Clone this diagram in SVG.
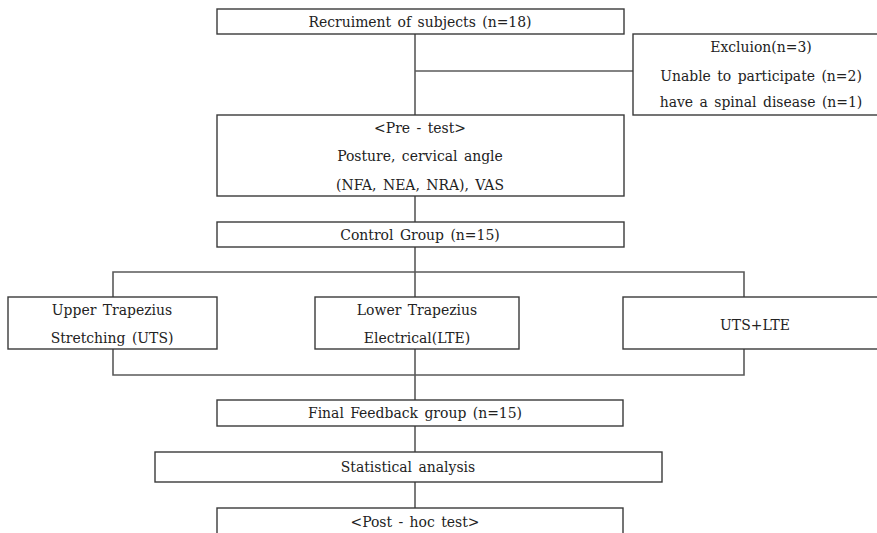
<svg xmlns="http://www.w3.org/2000/svg" width="877" height="533" viewBox="0 0 877 533">
<style>
  .box { fill: #ffffff; stroke: #3a3a3a; stroke-width: 1.4; }
  .conn { stroke: #5a5a5a; stroke-width: 1.6; fill: none; }
  .t { font-family: 'DejaVu Serif Condensed', 'DejaVu Serif', serif; font-stretch: condensed; font-size: 15.5px; fill: #222; text-anchor: middle; word-spacing: 2px; }
</style>
<rect x="0" y="0" width="877" height="533" fill="#ffffff"/>
<g id="connectors">
  <line class="conn" x1="415" y1="34" x2="415" y2="115"/>
  <line class="conn" x1="415" y1="71" x2="633" y2="71"/>
  <line class="conn" x1="415" y1="196" x2="415" y2="222"/>
  <line class="conn" x1="415" y1="247" x2="415" y2="297"/>
  <polyline class="conn" points="113,297 113,272 744,272 744,297"/>
  <polyline class="conn" points="113,349 113,375 744,375 744,349"/>
  <line class="conn" x1="415" y1="349" x2="415" y2="400"/>
  <line class="conn" x1="415" y1="426" x2="415" y2="452"/>
  <line class="conn" x1="415" y1="482" x2="415" y2="508"/>
</g>
<g id="recruitment">
  <rect class="box" x="217" y="9" width="407" height="25"/>
  <text class="t" x="420" y="27">Recruiment of subjects (n=18)</text>
</g>
<g id="exclusion">
  <rect class="box" x="633" y="34" width="260" height="81"/>
  <text class="t" x="761" y="52">Excluion(n=3)</text>
  <text class="t" x="761" y="81">Unable to participate (n=2)</text>
  <text class="t" x="761" y="107">have a spinal disease (n=1)</text>
</g>
<g id="pretest">
  <rect class="box" x="217" y="115" width="407" height="81"/>
  <text class="t" x="420" y="133">&lt;Pre - test&gt;</text>
  <text class="t" x="420" y="161">Posture, cervical angle</text>
  <text class="t" x="420" y="190">(NFA, NEA, NRA), VAS</text>
</g>
<g id="control">
  <rect class="box" x="217" y="222" width="407" height="25"/>
  <text class="t" x="420" y="240">Control Group (n=15)</text>
</g>
<g id="uts">
  <rect class="box" x="8" y="297" width="209" height="52"/>
  <text class="t" x="112" y="315">Upper Trapezius</text>
  <text class="t" x="112" y="343">Stretching (UTS)</text>
</g>
<g id="lte">
  <rect class="box" x="315" y="297" width="204" height="52"/>
  <text class="t" x="417" y="315">Lower Trapezius</text>
  <text class="t" x="417" y="343">Electrical(LTE)</text>
</g>
<g id="utslte">
  <rect class="box" x="623" y="297" width="266" height="52"/>
  <text class="t" x="755" y="330">UTS+LTE</text>
</g>
<g id="final">
  <rect class="box" x="217" y="400" width="406" height="26"/>
  <text class="t" x="415" y="418">Final Feedback group (n=15)</text>
</g>
<g id="stat">
  <rect class="box" x="155" y="452" width="507" height="30"/>
  <text class="t" x="408" y="472">Statistical analysis</text>
</g>
<g id="posthoc">
  <rect class="box" x="217" y="508" width="406" height="30"/>
  <text class="t" x="415" y="527">&lt;Post - hoc test&gt;</text>
</g>
</svg>
